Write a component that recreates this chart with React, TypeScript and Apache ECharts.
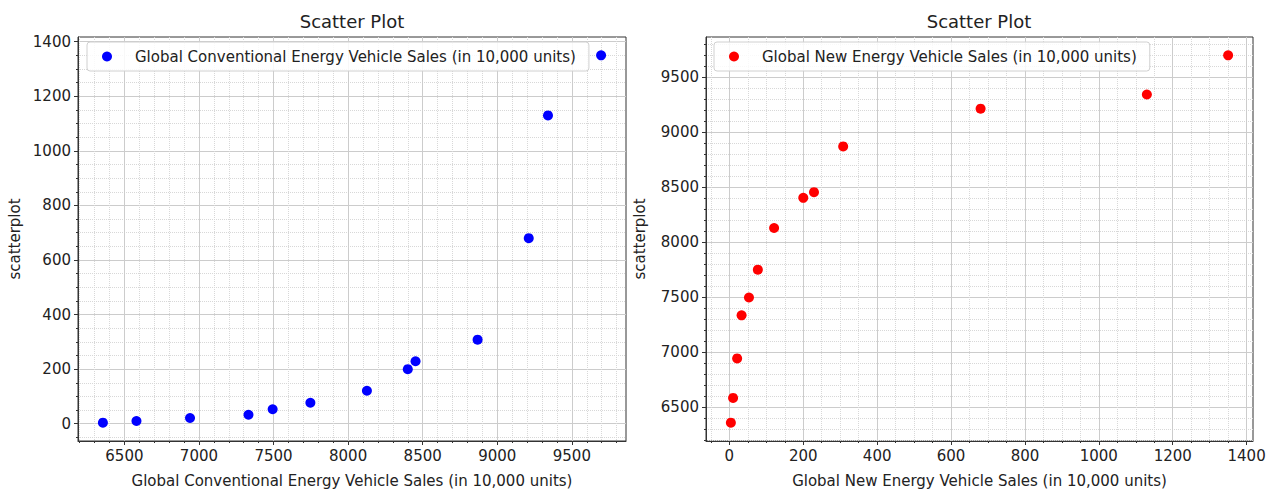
import React, { useEffect, useRef } from "react";
import * as echarts from "echarts";

// Data (units: 10,000 vehicles)
const conventionalSales = [6356, 6581, 6940, 7332, 7494, 7747, 8126, 8400, 8452, 8868, 9211, 9340, 9696];
const newEnergySales = [4, 10, 21, 33, 53, 77, 121, 200, 229, 308, 680, 1130, 1350];

const conventionalTicks = [6500, 7000, 7500, 8000, 8500, 9000, 9500];
const newEnergyTicks = [0, 200, 400, 600, 800, 1000, 1200, 1400];

const conventionalName = "Global Conventional Energy Vehicle Sales (in 10,000 units)";
const newEnergyName = "Global New Energy Vehicle Sales (in 10,000 units)";
const titleText = "Scatter Plot";
const yAxisName = "scatterplot";

const FONT = "DejaVu Sans";

function paddedRange(values: number[]): [number, number] {
  const lo = Math.min(...values);
  const hi = Math.max(...values);
  const m = (hi - lo) * 0.05;
  return [lo - m, hi + m];
}

function makeAxis(opts: {
  gridIndex: number;
  range: [number, number];
  step: number;
  minorSplit: number;
  ticks: number[];
  name: string;
  nameGap: number;
}) {
  return {
    type: "value",
    gridIndex: opts.gridIndex,
    min: opts.range[0],
    max: opts.range[1],
    minInterval: opts.step,
    maxInterval: opts.step,
    splitNumber: 7,
    name: opts.name,
    nameLocation: "middle",
    nameGap: opts.nameGap,
    nameTextStyle: { fontFamily: FONT, fontSize: 15, color: "#222" },
    axisLine: { show: true, onZero: false, lineStyle: { color: "#333", width: 1 } },
    axisTick: { show: true, length: 4, customValues: opts.ticks, lineStyle: { color: "#333", width: 1 } },
    minorTick: { show: true, splitNumber: opts.minorSplit, length: 2, lineStyle: { color: "#333", width: 1 } },
    axisLabel: {
      customValues: opts.ticks,
      formatter: (v: number) => String(Math.round(v)),
      fontFamily: FONT,
      fontSize: 15,
      color: "#222",
      margin: 7,
    },
    splitLine: { show: true, lineStyle: { color: "#cccccc", width: 1 } },
    minorSplitLine: { show: true, lineStyle: { color: "#d8d8d8", width: 1, type: "dotted" } },
  };
}

export default function App() {
  const ref = useRef<HTMLDivElement>(null);

  useEffect(() => {
    if (!ref.current) return;
    const chart = echarts.init(ref.current, undefined, { renderer: "svg" });

    const convRange = paddedRange(conventionalSales);
    const nevRange = paddedRange(newEnergySales);

    const leftData = conventionalSales.map((c, i) => [c, newEnergySales[i]]);
    const rightData = newEnergySales.map((n, i) => [n, conventionalSales[i]]);

    const legendCommon = {
      orient: "horizontal",
      icon: "circle",
      itemWidth: 10,
      itemHeight: 10,
      top: 42,
      padding: [7, 13, 7, 15],
      borderColor: "#d0d0d0",
      borderWidth: 1,
      borderRadius: 3,
      backgroundColor: "rgba(255,255,255,0.85)",
      selectedMode: false,
      textStyle: { fontFamily: FONT, fontSize: 15, color: "#222", padding: [0, 0, 0, 18] },
    };

    const titleStyle = {
      text: titleText,
      font: `18px '${FONT}'`,
      fill: "#222",
      align: "center",
      verticalAlign: "middle",
      textAlign: "center",
      textVerticalAlign: "middle",
    };

    chart.setOption({
      animation: false,
      backgroundColor: "#ffffff",
      textStyle: { fontFamily: FONT },
      graphic: [
        { type: "text", x: 352, y: 21, style: { ...titleStyle } },
        { type: "text", x: 979, y: 21, style: { ...titleStyle } },
      ],
      legend: [
        { ...legendCommon, left: 87, data: [conventionalName] },
        { ...legendCommon, left: 714, data: [newEnergyName] },
      ],
      grid: [
        { left: 78, top: 37, width: 548, height: 409, show: true, borderColor: "#333", borderWidth: 1, backgroundColor: "transparent" },
        { left: 706, top: 37, width: 547, height: 409, show: true, borderColor: "#333", borderWidth: 1, backgroundColor: "transparent" },
      ],
      xAxis: [
        makeAxis({ gridIndex: 0, range: convRange, step: 500, minorSplit: 5, ticks: conventionalTicks, name: conventionalName, nameGap: 32 }),
        makeAxis({ gridIndex: 1, range: nevRange, step: 200, minorSplit: 4, ticks: newEnergyTicks, name: newEnergyName, nameGap: 32 }),
      ],
      yAxis: [
        makeAxis({ gridIndex: 0, range: nevRange, step: 200, minorSplit: 4, ticks: newEnergyTicks, name: yAxisName, nameGap: 56 }),
        makeAxis({ gridIndex: 1, range: convRange, step: 500, minorSplit: 5, ticks: conventionalTicks, name: yAxisName, nameGap: 59 }),
      ],
      series: [
        {
          type: "scatter",
          name: conventionalName,
          xAxisIndex: 0,
          yAxisIndex: 0,
          data: leftData,
          symbol: "circle",
          symbolSize: 10,
          itemStyle: { color: "#0000ff", opacity: 1 },
        },
        {
          type: "scatter",
          name: newEnergyName,
          xAxisIndex: 1,
          yAxisIndex: 1,
          data: rightData,
          symbol: "circle",
          symbolSize: 10,
          itemStyle: { color: "#ff0000", opacity: 1 },
        },
      ],
    });

    return () => chart.dispose();
  }, []);

  return (
    <div
      ref={ref}
      style={{ position: "fixed", left: 0, top: 0, width: 1269, height: 493, background: "#fff" }}
    />
  );
}
